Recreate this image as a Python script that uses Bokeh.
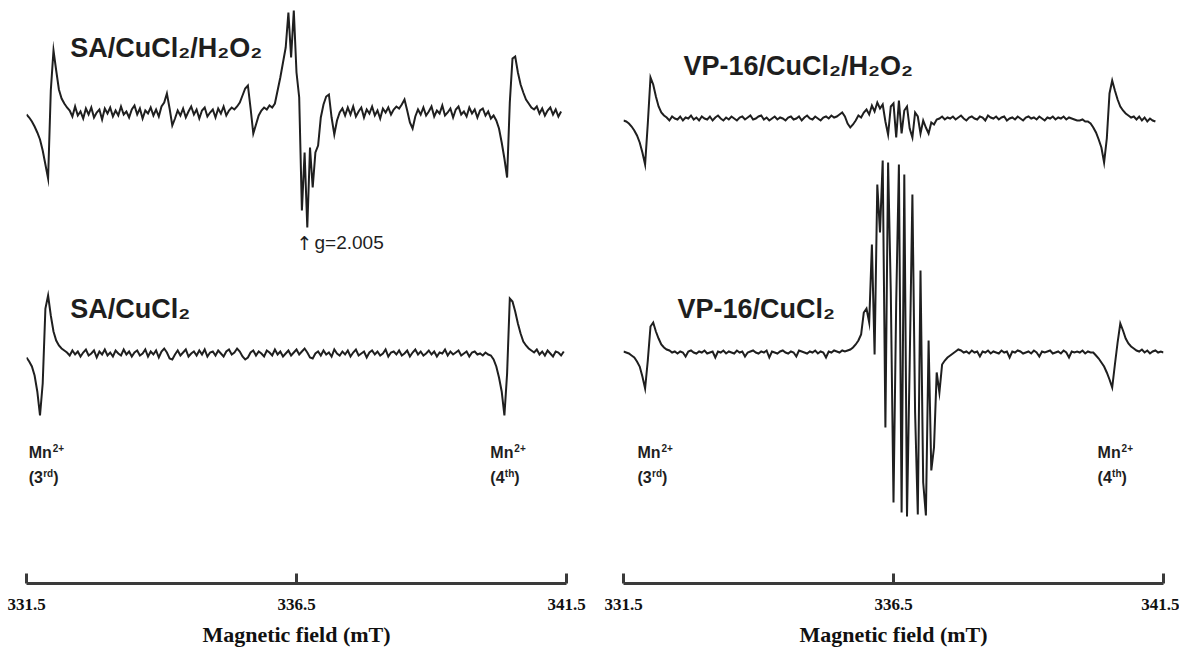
import numpy as np
from bokeh.plotting import figure
from bokeh.models import Range1d, FixedTicker, Label
from bokeh.layouts import row
from bokeh.embed import file_html
from bokeh.resources import INLINE

# ---------------- data ----------------
field_start = 331.5          # mT
field_step = 0.05            # mT per sample
tick_values = [331.5, 336.5, 341.5]
tick_labels = ["331.5", "336.5", "341.5"]

# EPR intensities (arbitrary units, baseline = 0, positive = up)
sa_cucl2_h2o2 = [
    -2, -5, -9, -14, -20, -27, -38, -52, -66, 22,
    62, 42, 23, 14, 9, 5, 2, -4, 6, -3,
    1, -6, 4, -2, 5, -5, 0, 3, -7, 4,
    -1, 5, -4, 2, -3, 6, -2, 1, -5, 3,
    7, -2, 4, -6, 2, -1, 5, -3, 3, -4,
    6, 10, 19, 4, -13, -6, 2, -3, 4, -5,
    1, 6, -2, 3, -6, 2, 5, -4, 0, 3,
    -5, 4, -1, 6, -3, 2, 5, 3, 6, 10,
    17, 24, 27, 4, -21, -12, -3, 2, 5, 3,
    7, 5, 9, 22, 35, 50, 65, 100, 55, 102,
    40, 15, -98, -40, -115, -35, -75, -40, -33, -5,
    8, 16, 18, -5, -22, -8, 0, 4, -3, 5,
    -2, 6, -4, 1, 5, -5, 3, -1, 6, -3,
    2, -6, 4, 0, 5, -2, 3, 6, 4, 8,
    13, 2, -10, -16, -4, 3, -2, 5, -3, 1,
    6, -4, 2, -1, 7, -3, 0, 4, -5, 3,
    6, -2, 1, -4, 5, -1, 3, -5, 2, 4,
    -3, 1, -6, -3, -8, -16, -30, -46, -65, 10,
    54, 56, 40, 28, 20, 13, 9, 5, 3, 6,
    -1, 4, -3, 2, 5, -2, 3, -4, 1,
]

sa_cucl2 = [
    -4, -8, -13, -22, -38, -62, -30, 45, 58, 38,
    22, 13, 8, 5, 3, 1, -2, 3, -1, 2,
    -3, 1, 4, -2, 0, 3, -4, 2, -1, 4,
    -2, 1, -3, 3, 0, -2, 4, -1, 2, -3,
    1, 3, -2, 0, 4, -3, 2, -1, 3, -4,
    2, 5, 1, -5, -6, -1, 3, -2, 1, 4,
    -3, 0, 2, -2, 3, -1, 4, -3, 1, 2,
    -2, 3, 0, -3, 2, 4, -1, 1, 5, 2,
    -3, -6, -4, 1, 3, -2, 2, 0, -3, 3,
    1, -2, 4, -1, 2, -3, 0, 3, -2, 1,
    4, -1, 2, 5, 1, -4, -5, 0, 2, -2,
    3, -1, 1, -3, 4, 0, -2, 2, -1, 3,
    -3, 1, 4, -2, 0, 2, -4, 1, 3, -1,
    2, -2, 0, 4, -3, 1, 2, -1, 3, -2,
    0, 3, -3, 1, 4, -1, 2, -2, 0, 3,
    -1, 2, -3, 1, 0, 4, -2, 2, -1, 1,
    3, -2, 0, 2, -3, 1, 2, -1, 0, -2,
    1, -1, -2, -6, -13, -24, -38, -62, -20, 55,
    52, 42, 30, 20, 12, 8, 5, 3, 1, 4,
    -1, 2, -2, 3, 0, -3, 2, 1, -2, 2,
]

vp16_cucl2_h2o2 = [
    -2, -3, -5, -8, -12, -17, -24, -34, -46, -5,
    41, 34, 22, 12, 6, 3, 1, -2, 2, 0,
    -1, 2, -2, 1, 0, 3, -1, 1, -2, 2,
    0, -1, 2, -2, 1, 3, 0, -2, 1, -1,
    2, 0, -2, 1, 2, -1, 1, 3, -1, 0,
    2, 3, -1, 1, -2, 0, 2, -1, 1, 0,
    -2, 1, 2, -1, 0, 2, -2, 1, 3, 0,
    -1, 2, 0, -2, 1, 2, 0, 3, 1, 2,
    4, 6, 2, -5, -9, -6, -2, 3, 1, 6,
    9, 4, 13, 7, 16, 10, 14, -3, -16, 12,
    15, -19, 18, -15, 8, 12, -10, -19, 6, 2,
    -15, -2, -9, -15, -4, -6, -1, 0, 2, -1,
    1, 0, 2, -1, 1, 3, 0, -2, 1, 2,
    0, -1, 2, 1, -2, 3, 1, 0, 2, -1,
    1, 2, -2, 0, 1, -1, 2, 0, -2, 1,
    2, 0, 1, -1, 2, 0, -2, 1, 0, 2,
    -1, 1, 0, 2, -1, 1, 0, -1, -2, -2,
    -1, -3, -3, -5, -9, -14, -21, -29, -44, -20,
    25, 38, 28, 19, 12, 8, 5, 3, 1, 2,
    -1, 2, -2, 1, -3, 0, -2, -3,
]

vp16_cucl2 = [
    1, 0, -1, -3, -5, -9, -14, -24, -36, -8,
    26, 30, 21, 14, 8, 5, 3, 2, 0, 1,
    -1, 1, 0, -4, 1, 2, 0, -1, 1, 0,
    2, -1, 0, 1, -5, 1, 0, 2, -1, 1,
    0, -1, 2, 0, 1, -4, 0, 1, 2, 0,
    -1, 1, 0, 2, -5, 1, 0, -1, 1, 2,
    0, -1, 1, 0, -4, 2, 1, 0, -1, 1,
    0, 2, -1, 1, 0, -5, 1, 0, 2, 1,
    0, 2, 1, 2, 3, 5, 8, 12, 18, 40,
    44, 30, 108, -2, 168, 120, 192, -75, 190, 60,
    -150, 50, 188, -160, 178, -164, -10, 158, -60, -162,
    82, -130, -163, 12, -118, -95, -20, -40, -12, -8,
    -5, -3, -1, 1, 3, 2, 0, 1, -1, 2,
    0, 1, -4, 1, 0, 2, -1, 1, 0, -1,
    2, 0, 1, -5, 1, 0, 2, 1, -1, 0,
    1, -1, 2, 0, -4, 1, 0, 1, 2, -1,
    0, 1, -1, 2, 0, -5, 1, 0, 1, 0,
    2, -1, 1, 0, 0, -3, -6, -10, -14, -20,
    -27, -35, -12, 10, 29, 22, 14, 9, 6, 4,
    2, 1, 3, 0, 2, -1, 1, 2, 0, 1, 0,
]

# ---------------- layout / style ----------------
INK = "#1f1f1f"
TXT = "#1e1e1e"
FRAME_W, FRAME_H = 540, 575
LABEL_FONT = "Liberation Sans"
AXIS_FONT = "Liberation Serif"


def fields(values):
    return field_start + field_step * np.arange(len(values))


def make_panel(border_left, border_right):
    p = figure(frame_width=FRAME_W, frame_height=FRAME_H,
               x_range=Range1d(tick_values[0], tick_values[-1]),
               y_range=Range1d(0, FRAME_H),
               output_backend="svg", toolbar_location=None,
               y_axis_location=None,
               min_border_left=border_left, min_border_right=border_right,
               min_border_top=8, min_border_bottom=0)
    p.grid.visible = False
    p.outline_line_color = None
    p.background_fill_color = "white"
    ax = p.xaxis[0]
    ax.ticker = FixedTicker(ticks=tick_values)
    ax.major_label_overrides = {v: s for v, s in zip(tick_values, tick_labels)}
    ax.minor_tick_line_color = None
    ax.major_tick_in = 10
    ax.major_tick_out = 0
    ax.major_tick_line_width = 3
    ax.major_tick_line_color = "#3a3a3a"
    ax.axis_line_width = 3
    ax.axis_line_color = "#3a3a3a"
    ax.major_label_text_font = AXIS_FONT
    ax.major_label_text_font_style = "bold"
    ax.major_label_text_font_size = "17px"
    ax.major_label_text_color = "#111111"
    ax.major_label_standoff = 15
    ax.axis_label = "Magnetic field (mT)"
    ax.axis_label_text_font = AXIS_FONT
    ax.axis_label_text_font_style = "bold"
    ax.axis_label_text_font_size = "22px"
    ax.axis_label_text_color = "#111111"
    ax.axis_label_standoff = 9
    return p


def add_trace(p, values, baseline):
    y = np.array(values, dtype=float) + baseline
    p.line(fields(values), y, line_color=INK, line_width=2.0, line_join="miter")


def add_text(p, x, y, text, size, bold=True, baseline="alphabetic",
             font=LABEL_FONT, dx=0, dy=0):
    p.add_layout(Label(x=x, y=y, x_offset=dx, y_offset=dy, text=text,
                       text_font=font, text_font_size=size,
                       text_font_style="bold" if bold else "normal",
                       text_color=TXT, text_baseline=baseline))


def add_mn(p, x, order):
    # "Mn2+" with raised charge, and "(3rd)" / "(4th)" with raised ordinal
    add_text(p, x, 131, "Mn", "16px")
    add_text(p, x, 131, "2+", "10px", dx=24, dy=4.5)
    add_text(p, x, 106, "(" + order[0], "16px")
    add_text(p, x, 106, order[1:], "10px", dx=14.5, dy=4.5)
    add_text(p, x, 106, ")", "16px", dx=14.5 + (10 if order[1:] == "rd" else 9.5))


# left panel
left = make_panel(26, 28)
add_trace(left, sa_cucl2_h2o2, 471)
add_trace(left, sa_cucl2, 230)
add_text(left, 332.31, 536, "SA/CuCl₂/H₂O₂", "27px")
add_text(left, 332.31, 275, "SA/CuCl₂", "27px")
add_text(left, 336.50, 341, "↑", "19px", bold=False, baseline="middle",
         font="DejaVu Sans")
add_text(left, 336.50, 341, "g=2.005", "19px", bold=False, baseline="middle", dx=18)
add_mn(left, 331.54, "3rd")
add_mn(left, 340.09, "4th")

# right panel
right = make_panel(29, 16)
add_trace(right, vp16_cucl2_h2o2, 465)
add_trace(right, vp16_cucl2, 231)
add_text(right, 332.61, 518, "VP-16/CuCl₂/H₂O₂", "27px")
add_text(right, 332.50, 275, "VP-16/CuCl₂", "27px")
add_mn(right, 331.76, "3rd")
add_mn(right, 340.28, "4th")

layout = row(left, right)
open("out.html", "w").write(file_html(layout, INLINE))
